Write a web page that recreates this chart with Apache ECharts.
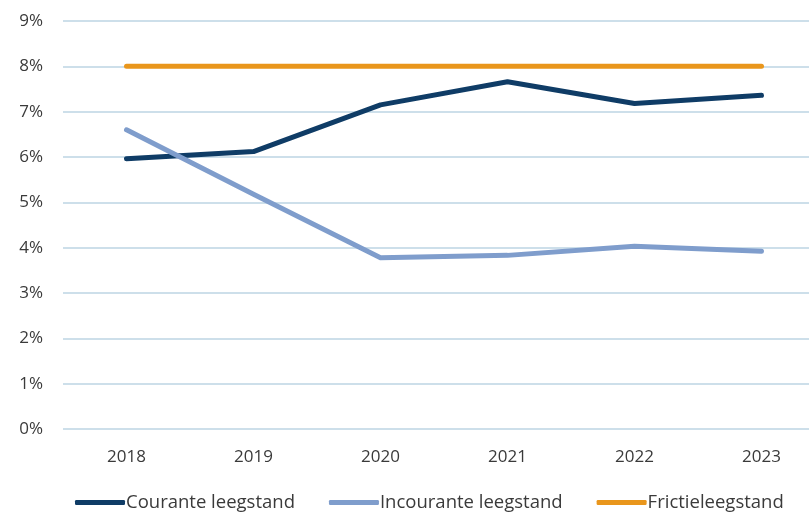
<!DOCTYPE html>
<html>
<head>
<meta charset="utf-8">
<script src="https://cdn.jsdelivr.net/npm/echarts@6/dist/echarts.min.js"></script>
<style>
  html, body { margin: 0; padding: 0; background: #fff; overflow: hidden; }
  /* the plot runs past the right edge of the window, as in the source image */
  #chart { width: 825px; height: 512px; }
</style>
</head>
<body>
<div id="chart"></div>
<script>
var years = ['2018', '2019', '2020', '2021', '2022', '2023'];
var courante = [5.96, 6.12, 7.15, 7.66, 7.18, 7.36];
var incourante = [6.6, 5.18, 3.78, 3.83, 4.03, 3.92];
var frictie = [8, 8, 8, 8, 8, 8];

var myChart = echarts.init(document.getElementById('chart'));

function lineSeries(name, data, color) {
  return {
    name: name,
    type: 'line',
    data: data,
    symbol: 'none',
    color: color,
    lineStyle: { width: 5, color: color, cap: 'round', join: 'round' }
  };
}

var option = {
  animation: false,
  textStyle: { fontFamily: 'Open Sans' },
  grid: { left: 63, top: 21, right: 0, bottom: 83 },
  legend: {
    left: 70,
    top: 488,
    icon: 'roundRect',
    itemWidth: 50,
    itemHeight: 5,
    itemGap: 34,
    textStyle: { fontSize: 18.5, color: '#3a3a3a', padding: [0, 0, 0, -4] },
    data: ['Courante leegstand', 'Incourante leegstand', 'Frictieleegstand']
  },
  xAxis: {
    type: 'category',
    data: years,
    boundaryGap: true,
    axisLine: { show: false },
    axisTick: { show: false },
    axisLabel: { fontSize: 17, color: '#3a3a3a', margin: 20 }
  },
  yAxis: {
    type: 'value',
    min: 0,
    max: 9,
    interval: 1,
    axisLabel: { fontSize: 17, color: '#3a3a3a', margin: 20, formatter: '{value}%' },
    splitLine: { lineStyle: { color: '#cddfea', width: 2 } }
  },
  series: [
    lineSeries('Courante leegstand', courante, '#0f3c66'),
    lineSeries('Incourante leegstand', incourante, '#7f9dcc'),
    lineSeries('Frictieleegstand', frictie, '#e9961c')
  ]
};

option && myChart.setOption(option);
</script>
</body>
</html>
